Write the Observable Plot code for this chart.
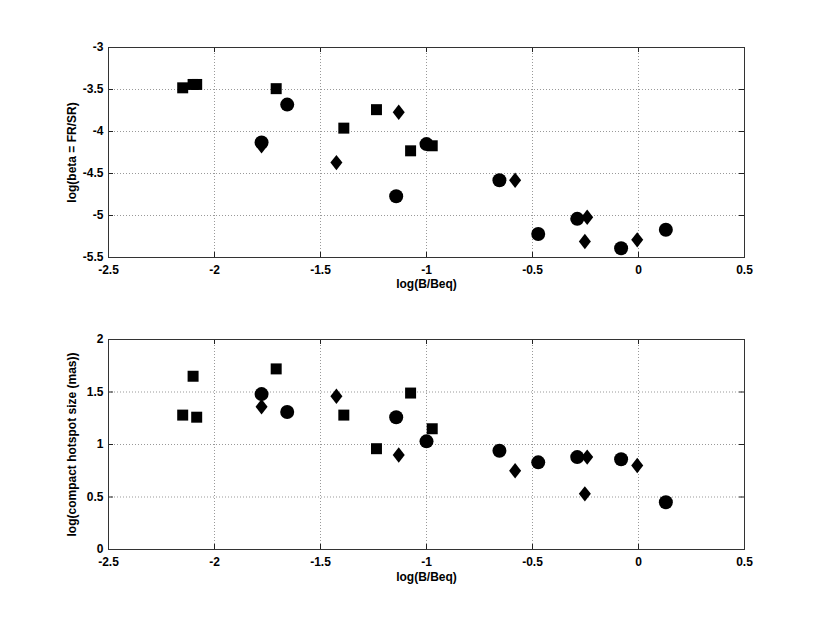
<!DOCTYPE html>
<html>
<head>
<meta charset="utf-8">
<script src="https://cdn.jsdelivr.net/npm/d3@7"></script>
<script src="https://cdn.jsdelivr.net/npm/@observablehq/plot@0.6"></script>
<style>
  html, body { margin: 0; padding: 0; background: #fff; }
  #chart svg { display: block; }
</style>
</head>
<body>
<div id="chart"></div>
<script>
// ---- data ----
const squareX      = [-2.15, -2.101, -2.084, -1.709, -1.39, -1.236, -1.075, -0.973];
const squareBeta   = [-3.48, -3.44, -3.44, -3.49, -3.96, -3.74, -4.23, -4.17];
const squareSize   = [1.28, 1.65, 1.26, 1.72, 1.28, 0.96, 1.49, 1.15];

const circleX      = [-1.778, -1.657, -1.143, -1.0, -0.656, -0.473, -0.289, -0.082, 0.129];
const circleBeta   = [-4.13, -3.68, -4.77, -4.15, -4.58, -5.22, -5.04, -5.39, -5.17];
const circleSize   = [1.48, 1.31, 1.26, 1.03, 0.94, 0.83, 0.88, 0.86, 0.45];

const diamondX     = [-1.778, -1.425, -1.131, -0.582, -0.242, -0.253, -0.006];
const diamondBeta  = [-4.17, -4.37, -3.77, -4.58, -5.02, -5.31, -5.29];
const diamondSize  = [1.36, 1.46, 0.90, 0.75, 0.88, 0.53, 0.80];

const xTicks       = [-2.5, -2, -1.5, -1, -0.5, 0, 0.5];
const betaTicks    = [-3, -3.5, -4, -4.5, -5, -5.5];
const sizeTicks    = [0, 0.5, 1, 1.5, 2];

const xLabel       = "log(B/Beq)";
const betaLabel    = "log(beta = FR/SR)";
const sizeLabel    = "log(compact hotspot size (mas))";

// ---- custom diamond (wider than d3's) ----
const diamondSymbol = {
  draw(ctx, size) {
    const r = Math.sqrt(size / Math.PI);
    const h = r * 1.1, w = r * 0.86;
    ctx.moveTo(0, -h); ctx.lineTo(w, 0); ctx.lineTo(0, h); ctx.lineTo(-w, 0); ctx.closePath();
  }
};

const toRows = (xs, ys) => xs.map((x, i) => ({x, y: ys[i]}));

function panel({ys, yDomain, yTicks, yLabel, height, marginTop, marginBottom, labelDy}) {
  const innerH = height - marginTop - marginBottom;
  const innerW = 822 - 108 - 78;
  const fmt = d => String(d);
  const fs = 12;
  return Plot.plot({
    width: 822,
    height,
    marginLeft: 108,
    marginRight: 78,
    marginTop,
    marginBottom,
    style: {fontFamily: "'Liberation Sans', Arial, Helvetica, sans-serif", fontSize: fs + "px", fontWeight: "bold", color: "#000", background: "#fff"},
    x: {domain: [-2.5, 0.5]},
    y: {domain: yDomain},
    marks: [
      Plot.gridX(xTicks, {stroke: "#999", strokeOpacity: 1, strokeDasharray: "1,2"}),
      Plot.gridY(yTicks, {stroke: "#999", strokeOpacity: 1, strokeDasharray: "1,2"}),
      // inward ticks
      Plot.ruleX(xTicks, {stroke: "#222", insetTop: innerH - 5}),
      Plot.ruleX(xTicks, {stroke: "#222", insetBottom: innerH - 5}),
      Plot.ruleY(yTicks, {stroke: "#222", insetRight: innerW - 5}),
      Plot.ruleY(yTicks, {stroke: "#222", insetLeft: innerW - 5}),
      Plot.frame({stroke: "#333", strokeWidth: 1}),
      Plot.axisX(xTicks, {tickSize: 0, tickPadding: 8, tickFormat: fmt, label: null, fontWeight: "bold", fontSize: fs}),
      Plot.axisY(yTicks, {tickSize: 0, tickPadding: 5, tickFormat: fmt, label: null, fontWeight: "bold", fontSize: fs}),
      Plot.text([xLabel], {frameAnchor: "bottom", dy: labelDy, textAnchor: "middle", lineAnchor: "middle", fontWeight: "bold", fontSize: fs}),
      Plot.text([yLabel], {frameAnchor: "left", dx: -36, rotate: -90, textAnchor: "middle", lineAnchor: "middle", fontWeight: "bold", fontSize: fs}),
      Plot.dot(toRows(squareX, ys.square), {x: "x", y: "y", symbol: "square", r: 6.2, fill: "#000", stroke: null}),
      Plot.dot(toRows(circleX, ys.circle), {x: "x", y: "y", symbol: "circle", r: 7, fill: "#000", stroke: null}),
      Plot.dot(toRows(diamondX, ys.diamond), {x: "x", y: "y", symbol: diamondSymbol, r: 7, fill: "#000", stroke: null})
    ]
  });
}

const topPanel = panel({
  ys: {square: squareBeta, circle: circleBeta, diamond: diamondBeta},
  yDomain: [-5.5, -3], yTicks: betaTicks, yLabel: betaLabel,
  height: 300, marginTop: 47, marginBottom: 43, labelDy: 27
});
const bottomPanel = panel({
  ys: {square: squareSize, circle: circleSize, diamond: diamondSize},
  yDomain: [0, 2], yTicks: sizeTicks, yLabel: sizeLabel,
  height: 317, marginTop: 39, marginBottom: 68, labelDy: 28
});
document.getElementById("chart").append(topPanel, bottomPanel);
</script>
</body>
</html>
